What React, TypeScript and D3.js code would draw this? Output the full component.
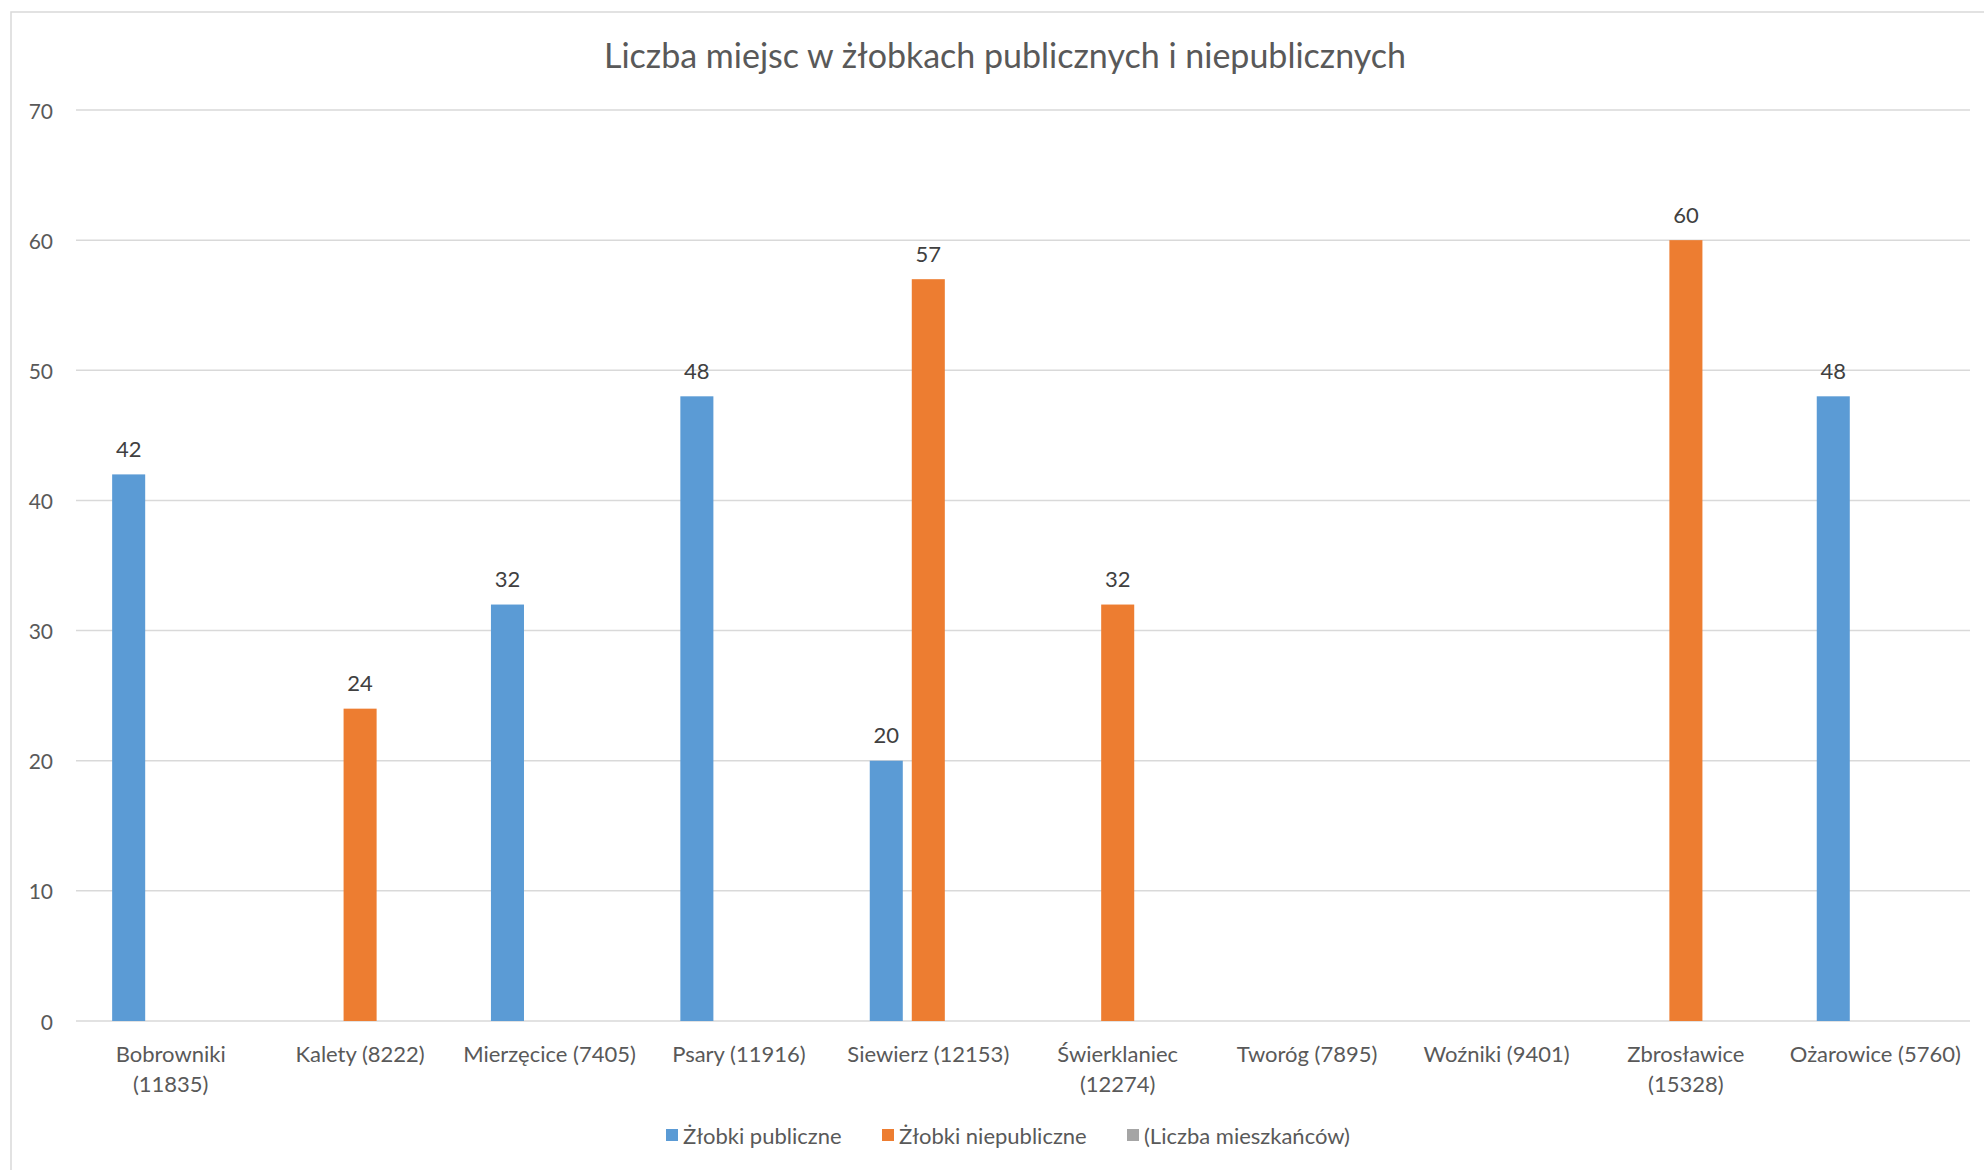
import React from "react";
import * as d3 from "d3";

const title = "Liczba miejsc w żłobkach publicznych i niepublicznych";
const gminy = ["Bobrowniki", "Kalety", "Mierzęcice", "Psary", "Siewierz", "Świerklaniec", "Tworóg", "Woźniki", "Zbrosławice", "Ożarowice"];
const mieszkancy = [11835, 8222, 7405, 11916, 12153, 12274, 7895, 9401, 15328, 5760];
const publiczne: (number | null)[] = [42, null, 32, 48, 20, null, null, null, null, 48];
const niepubliczne: (number | null)[] = [null, 24, null, null, 57, 32, null, null, 60, null];
const liczbaMieszkancow: (number | null)[] = [null, null, null, null, null, null, null, null, null, null];
const seriesNames = ["Żłobki publiczne", "Żłobki niepubliczne", "(Liczba mieszkańców)"];
const seriesColors = ["#5B9BD5", "#ED7D31", "#A5A5A5"];
const yTicks = [0, 10, 20, 30, 40, 50, 60, 70];

const W = 1984;
const H = 1170;
const FONT = "Lato, 'Open Sans', sans-serif";

export default function App() {
  const series = [publiczne, niepubliczne, liczbaMieszkancow];
  const x0 = d3.scaleBand<string>().domain(gminy).range([76, 1970]).paddingInner(0).paddingOuter(0);
  const x1 = d3.scaleBand<number>().domain([0, 1, 2]).range([0, x0.bandwidth()]).paddingInner(0.214).paddingOuter(0.86);
  const y = d3.scaleLinear().domain([0, 70]).range([1021, 110]);

  const labels = gminy.map((g, i) => {
    const full = `${g} (${mieszkancy[i]})`;
    return full.length > 17 ? [g, `(${mieszkancy[i]})`] : [full];
  });

  const legendX = [666, 882, 1127];

  return (
    <svg width={W} height={H} style={{ position: "absolute", left: 0, top: 0, background: "#fff" }} fontFamily={FONT}>
      <rect x={0} y={0} width={W} height={H} fill="#fff" />
      <rect x={11} y={12} width={W + 20} height={H + 20} fill="#fff" stroke="#D9D9D9" strokeWidth={1.5} />
      <text x={1005} y={54.5} textAnchor="middle" dominantBaseline="central" fontSize={34} fill="#595959">{title}</text>
      {yTicks.map((t) => (
        <g key={t}>
          <line x1={76} x2={1970} y1={y(t)} y2={y(t)} stroke="#D9D9D9" strokeWidth={1.5} />
          <text x={53} y={y(t)} textAnchor="end" dominantBaseline="central" fontSize={21} fill="#595959">{t}</text>
        </g>
      ))}
      {series.map((s, si) =>
        s.map((v, i) =>
          v == null ? null : (
            <g key={`${si}-${i}`}>
              <rect x={(x0(gminy[i]) as number) + (x1(si) as number)} y={y(v)} width={x1.bandwidth()} height={y(0) - y(v)} fill={seriesColors[si]} />
              <text x={(x0(gminy[i]) as number) + (x1(si) as number) + x1.bandwidth() / 2} y={y(v) - 26} textAnchor="middle" dominantBaseline="central" fontSize={22} fill="#404040">{v}</text>
            </g>
          )
        )
      )}
      {labels.map((lines, i) => (
        <text key={i} textAnchor="middle" fontSize={22} fill="#595959">
          {lines.map((l, li) => (
            <tspan key={li} x={(x0(gminy[i]) as number) + x0.bandwidth() / 2} y={1053 + li * 30} dominantBaseline="central">{l}</tspan>
          ))}
        </text>
      ))}
      {seriesNames.map((n, i) => (
        <g key={n}>
          <rect x={legendX[i]} y={1129} width={12} height={12} fill={seriesColors[i]} />
          <text x={legendX[i] + 17} y={1135} dominantBaseline="central" fontSize={22} fill="#595959">{n}</text>
        </g>
      ))}
    </svg>
  );
}
